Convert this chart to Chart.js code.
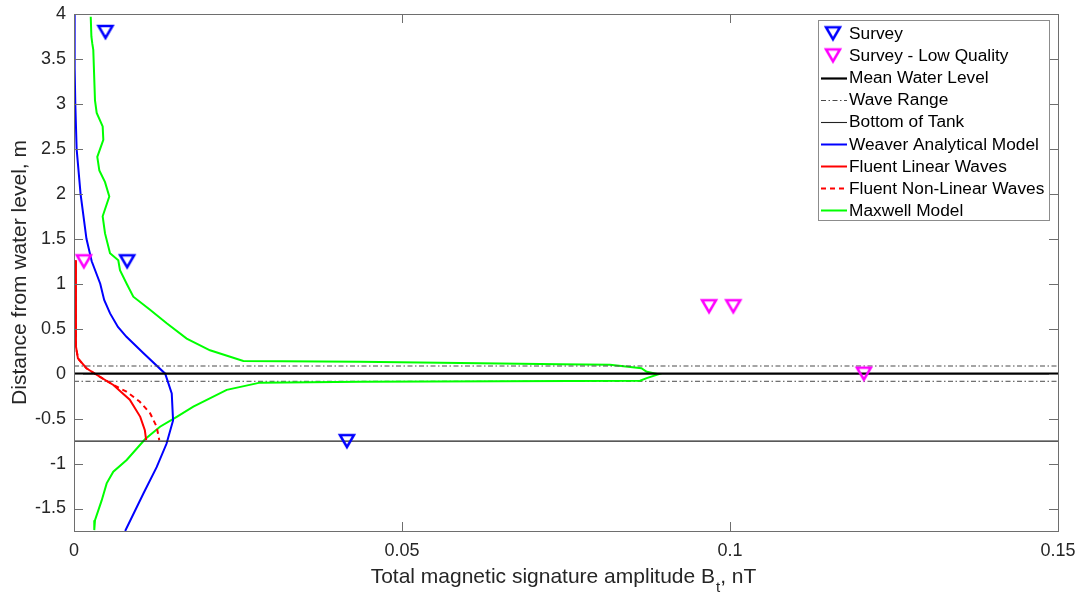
<!DOCTYPE html>
<html>
<head>
<meta charset="utf-8">
<script src="https://cdn.jsdelivr.net/npm/chart.js@4.4.1/dist/chart.umd.min.js"></script>
<style>
  html, body { margin: 0; padding: 0; background: #fff; }
  #wrap { width: 1083px; height: 595px; }
</style>
</head>
<body>
<div id="wrap"><canvas id="magChart" width="1083" height="595"></canvas></div>
<script>
// axis ticks
var xTicks = [0, 0.05, 0.1, 0.15];
var yTicks = [-1.5, -1, -0.5, 0, 0.5, 1, 1.5, 2, 2.5, 3, 3.5, 4];

// survey points
var surveyX = [0.0048, 0.0081, 0.0416];
var surveyY = [3.8, 1.25, -0.75];
var lowQualX = [0.0015, 0.0968, 0.1005, 0.1204];
var lowQualY = [1.25, 0.75, 0.75, 0];

// reference levels
var meanLevel = 0;
var waveRange = 0.085;
var tankBottom = -0.75;

// Weaver analytical model
var weaverX = [0.00005, 0.0001, 0.0002, 0.0004, 0.001, 0.0019, 0.0027, 0.0040, 0.0046, 0.0055, 0.0067, 0.0080, 0.0106, 0.0139, 0.0149, 0.0151, 0.0141, 0.0126, 0.0106, 0.0078];
var weaverY = [4, 3.4, 3.0, 2.5, 2.0, 1.5, 1.25, 1.0, 0.82, 0.67, 0.52, 0.41, 0.226, 0, -0.22, -0.52, -0.78, -1.04, -1.33, -1.75];

// Fluent runs
var fluentLinX = [0.0002, 0.0003, 0.0006, 0.0019, 0.0035, 0.0060, 0.0085, 0.0101, 0.0108, 0.0110];
var fluentLinY = [1.26, 0.30, 0.17, 0.06, -0.015, -0.126, -0.29, -0.48, -0.63, -0.74];
var fluentNlX = [0.0002, 0.0003, 0.0006, 0.0019, 0.0035, 0.0060, 0.0080, 0.0100, 0.0116, 0.0126, 0.0130];
var fluentNlY = [1.26, 0.30, 0.17, 0.06, -0.015, -0.126, -0.20, -0.31, -0.44, -0.59, -0.74];

// Maxwell model (path runs top to bottom)
var maxwellX = [0.00255, 0.00265, 0.00279, 0.00294, 0.0032, 0.00346, 0.00437, 0.00447, 0.00355, 0.00386, 0.00473, 0.00538, 0.00437, 0.00473, 0.00549, 0.00675, 0.00701, 0.00803, 0.00904, 0.01159, 0.01413, 0.01718, 0.02073, 0.02581, 0.0436, 0.0741, 0.0817, 0.0865, 0.0873, 0.0891, 0.0873, 0.0863, 0.0436, 0.02835, 0.02328, 0.01819, 0.01566, 0.01311, 0.01082, 0.00803, 0.00599, 0.00498, 0.00422, 0.0032, 0.00309];
var maxwellY = [3.97, 3.75, 3.67, 3.6, 3.04, 2.9, 2.75, 2.6, 2.41, 2.26, 2.13, 1.97, 1.75, 1.56, 1.34, 1.26, 1.15, 1.0, 0.856, 0.71, 0.56, 0.39, 0.26, 0.14, 0.133, 0.105, 0.10, 0.06, 0.02, -0.007, -0.05, -0.078, -0.089, -0.10, -0.18, -0.367, -0.48, -0.59, -0.73, -0.96, -1.09, -1.22, -1.41, -1.63, -1.74];

var FONT = "'Liberation Sans', Arial, Helvetica, sans-serif";
var TEXT = '#262626';

function pts(xs, ys) {
    return xs.map(function (x, i) { return { x: x, y: ys[i] }; });
}
function hline(v) {
    return [{ x: xTicks[0], y: v }, { x: xTicks[xTicks.length - 1], y: v }];
}

// open down-pointing triangle, used as point image
function makeTri(color) {
    var c = document.createElement('canvas');
    c.width = 20; c.height = 18;
    var g = c.getContext('2d');
    g.strokeStyle = color;
    g.lineWidth = 2.5;
    g.lineJoin = 'miter';
    g.beginPath();
    g.moveTo(3, 3);
    g.lineTo(17, 3);
    g.lineTo(10, 15);
    g.closePath();
    g.stroke();
    return c;
}
var triBlue = makeTri('#0000ff');
var triMagenta = makeTri('#ff00ff');

function lineSet(label, data, color, width, dash, extra) {
    var ds = {
        label: label, data: data, showLine: true,
        borderColor: color, backgroundColor: color, borderWidth: width,
        borderDash: dash || [], pointRadius: 0, tension: 0, fill: false
    };
    for (var k in extra || {}) ds[k] = extra[k];
    return ds;
}

var datasets = [
    { label: 'Survey', data: pts(surveyX, surveyY), showLine: false, pointStyle: triBlue, pointRadius: 8, markerImg: triBlue },
    { label: 'Survey - Low Quality', data: pts(lowQualX, lowQualY), showLine: false, pointStyle: triMagenta, pointRadius: 8, markerImg: triMagenta },
    lineSet('Mean Water Level', hline(meanLevel), '#000000', 2.2),
    lineSet('Wave Range', hline(waveRange), '#4a4a4a', 1, [5, 2.5, 1.5, 2.5]),
    lineSet('Bottom of Tank', hline(tankBottom), '#222222', 1.1),
    lineSet('Weaver Analytical Model', pts(weaverX, weaverY), '#0000ff', 2),
    lineSet('Fluent Linear Waves', pts(fluentLinX, fluentLinY), '#ff0000', 2),
    lineSet('Fluent Non-Linear Waves', pts(fluentNlX, fluentNlY), '#ff0000', 2, [5, 4]),
    lineSet('Maxwell Model', pts(maxwellX, maxwellY), '#00ff00', 2),
    lineSet('', hline(-waveRange), '#4a4a4a', 1, [5, 2.5, 1.5, 2.5], { legendHide: true })
];

// box, inward ticks, axis titles and legend
var framePlugin = {
    id: 'frame',
    afterDatasetsDraw: function (chart) {
        var ctx = chart.ctx;
        var a = chart.chartArea;
        var xs = chart.scales.x, ys = chart.scales.y;
        var tl = 9;

        ctx.save();
        ctx.strokeStyle = '#6e6e6e';
        ctx.lineWidth = 1;
        ctx.setLineDash([]);
        ctx.strokeRect(a.left + 0.5, a.top + 0.5, a.right - a.left, a.bottom - a.top);
        ctx.beginPath();
        yTicks.forEach(function (v) {
            var y = Math.round(ys.getPixelForValue(v)) + 0.5;
            ctx.moveTo(a.left, y); ctx.lineTo(a.left + tl, y);
            ctx.moveTo(a.right, y); ctx.lineTo(a.right - tl, y);
        });
        xTicks.forEach(function (v) {
            var x = Math.round(xs.getPixelForValue(v)) + 0.5;
            ctx.moveTo(x, a.bottom); ctx.lineTo(x, a.bottom - tl);
            ctx.moveTo(x, a.top); ctx.lineTo(x, a.top + tl);
        });
        ctx.stroke();

        // y title
        ctx.fillStyle = TEXT;
        ctx.font = '21px ' + FONT;
        ctx.textAlign = 'center';
        ctx.textBaseline = 'middle';
        ctx.save();
        ctx.translate(20, (a.top + a.bottom) / 2);
        ctx.rotate(-Math.PI / 2);
        ctx.fillText('Distance from water level, m', 0, 0);
        ctx.restore();

        // x title with subscript t
        var p1 = 'Total magnetic signature amplitude B', p2 = 't', p3 = ', nT';
        ctx.textAlign = 'left';
        ctx.textBaseline = 'alphabetic';
        ctx.font = '21px ' + FONT;
        var w1 = ctx.measureText(p1).width, w3 = ctx.measureText(p3).width;
        ctx.font = '15px ' + FONT;
        var w2 = ctx.measureText(p2).width;
        var x0 = (a.left + a.right) / 2 - (w1 + w2 + w3) / 2 - 3;
        var base = 583;
        ctx.font = '21px ' + FONT;
        ctx.fillText(p1, x0, base);
        ctx.font = '15px ' + FONT;
        ctx.fillText(p2, x0 + w1 + 1, base + 9);
        ctx.font = '21px ' + FONT;
        ctx.fillText(p3, x0 + w1 + w2 + 1, base);

        // legend
        var lx = 818, ly = 20, lw = 231, lh = 200;
        ctx.fillStyle = '#ffffff';
        ctx.fillRect(lx, ly, lw, lh);
        ctx.strokeStyle = '#8c8c8c';
        ctx.strokeRect(lx + 0.5, ly + 0.5, lw, lh);
        ctx.font = '17.3px ' + FONT;
        ctx.textBaseline = 'middle';
        var row = 0;
        chart.data.datasets.forEach(function (ds) {
            if (ds.legendHide) return;
            var cy = 33.3 + row * 22.1;
            if (ds.markerImg) {
                ctx.drawImage(ds.markerImg, 833 - ds.markerImg.width / 2, cy - ds.markerImg.height / 2);
            } else {
                ctx.strokeStyle = ds.borderColor;
                ctx.lineWidth = ds.borderWidth;
                ctx.setLineDash(ds.borderDash || []);
                ctx.beginPath();
                ctx.moveTo(821, Math.round(cy) + 0.5);
                ctx.lineTo(847, Math.round(cy) + 0.5);
                ctx.stroke();
                ctx.setLineDash([]);
            }
            ctx.fillStyle = '#000000';
            ctx.fillText(ds.label, 849, cy + 1);
            row++;
        });
        ctx.restore();
    }
};

var ctx = document.getElementById('magChart').getContext('2d');
var magChart = new Chart(ctx, {
    type: 'scatter',
    data: { datasets: datasets },
    options: {
        responsive: false,
        animation: false,
        layout: { padding: { top: 14, right: 25, left: 0, bottom: 0 } },
        plugins: { legend: { display: false }, tooltip: { enabled: false } },
        scales: {
            x: {
                type: 'linear', min: xTicks[0], max: xTicks[xTicks.length - 1],
                grid: { display: false }, border: { display: false },
                afterBuildTicks: function (ax) { ax.ticks = xTicks.map(function (v) { return { value: v }; }); },
                afterFit: function (ax) { ax.height = 64; },
                ticks: {
                    font: { family: FONT, size: 18 }, color: TEXT, padding: 1,
                    maxRotation: 0, autoSkip: false,
                    callback: function (v) { return String(v); }
                }
            },
            y: {
                type: 'linear', min: -1.75, max: 4,
                grid: { display: false }, border: { display: false },
                afterBuildTicks: function (ax) { ax.ticks = yTicks.map(function (v) { return { value: v }; }); },
                afterFit: function (ax) { ax.width = 74; },
                ticks: {
                    font: { family: FONT, size: 18 }, color: TEXT, padding: 0,
                    autoSkip: false,
                    callback: function (v) { return String(v); }
                }
            }
        }
    },
    plugins: [framePlugin]
});
</script>
</body>
</html>
